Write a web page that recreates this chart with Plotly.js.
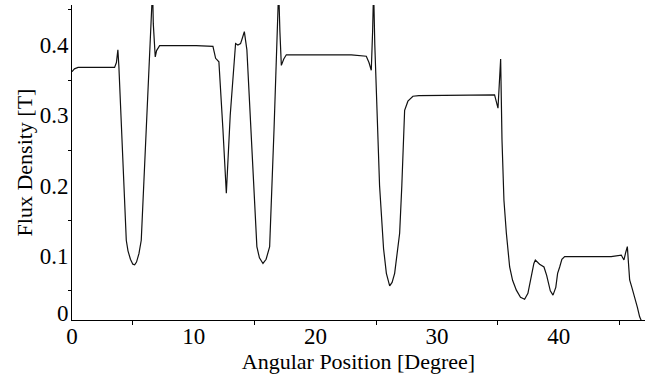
<!DOCTYPE html>
<html>
<head>
<meta charset="utf-8">
<script src="https://cdn.plot.ly/plotly-3.0.1.min.js"></script>
<style>html,body{margin:0;padding:0;background:#fff;}#chart{width:651px;height:383px;}</style>
</head>
<body>
<div id="chart"></div>
<script>
// Angular position [degree]
const angle = [
  0.0, 0.2, 0.5, 2.0, 3.5, 3.65, 3.77, 3.85, 4.1, 4.3, 4.46, 4.6, 4.8, 5.0, 5.15, 5.3, 5.5, 5.69, 6.0, 6.3, 6.46, 6.55, 6.62, 6.68, 6.78, 6.84, 6.95, 7.2,
  10.2, 11.58, 11.8, 12.07, 12.4, 12.68, 13.0, 13.44, 13.63, 13.85, 14.0, 14.16, 14.37, 14.8, 15.19, 15.4, 15.69, 15.95, 16.24, 16.6, 16.92, 16.98, 17.08, 17.2, 17.4, 17.61,
  22.95, 24.18, 24.4, 24.59, 24.7, 24.78, 24.88, 25.27, 25.6, 25.83, 26.1, 26.3, 26.51, 26.92, 27.1, 27.33, 27.6, 28.01, 28.5,
  34.72, 35.0, 35.1, 35.22, 35.33, 35.49, 35.69, 35.96, 36.2, 36.51, 36.85, 37.19, 37.46, 37.7, 37.95, 38.07, 38.42, 38.78, 39.0, 39.3, 39.52, 39.75, 39.9, 40.07, 40.25, 40.48,
  44.3, 45.13, 45.35, 45.5, 45.63, 45.72, 45.82, 46.0, 46.23, 46.45, 46.64, 46.9
];
// Flux density [T]
const flux = [
  0.362, 0.366, 0.368, 0.368, 0.368, 0.375, 0.393, 0.370, 0.260, 0.180, 0.122, 0.107, 0.095, 0.088, 0.087, 0.091, 0.103, 0.122, 0.235, 0.350, 0.417, 0.435, 0.480, 0.430, 0.390, 0.383, 0.392, 0.399,
  0.399, 0.398, 0.381, 0.376, 0.280, 0.189, 0.300, 0.402, 0.400, 0.402, 0.410, 0.419, 0.393, 0.250, 0.113, 0.097, 0.089, 0.095, 0.113, 0.280, 0.440, 0.480, 0.420, 0.371, 0.380, 0.386,
  0.386, 0.384, 0.375, 0.364, 0.420, 0.480, 0.400, 0.200, 0.110, 0.075, 0.057, 0.062, 0.075, 0.132, 0.200, 0.307, 0.320, 0.327, 0.328,
  0.329, 0.310, 0.350, 0.380, 0.265, 0.179, 0.132, 0.084, 0.065, 0.051, 0.041, 0.038, 0.0465, 0.070, 0.089, 0.094, 0.088, 0.084, 0.072, 0.050, 0.044, 0.055, 0.075, 0.084, 0.095, 0.0987,
  0.0987, 0.101, 0.094, 0.105, 0.113, 0.090, 0.0655, 0.055, 0.0417, 0.027, 0.013, 0.003
];
// Tick labels
const xTickVals = [0, 10, 20, 30, 40];
const xTickText = ['0', '10', '20', '30', '40'];
const xMinorTicks = [5, 15, 25, 35, 45];
const yTickVals = [0.0185, 0.1, 0.2, 0.3, 0.4];
const yTickText = ['0', '0.1', '0.2', '0.3', '0.4'];
const yMinorTicks = [0.05, 0.15, 0.25, 0.35, 0.45];

const font = {family: 'Liberation Serif, Times New Roman, serif', size: 22, color: '#000'};
const tickFont = {family: 'Liberation Serif, Times New Roman, serif', size: 23, color: '#000'};

const trace = {
  x: angle, y: flux, type: 'scatter', mode: 'lines',
  line: {color: '#111', width: 1.2},
  hoverinfo: 'skip'
};

const layout = {
  width: 651, height: 383,
  margin: {l: 72, r: 6, t: 5, b: 63},
  paper_bgcolor: '#fff', plot_bgcolor: '#fff',
  showlegend: false,
  font: font,
  xaxis: {
    range: [0, 47.08], showgrid: false, zeroline: false,
    showline: true, linecolor: '#000', linewidth: 1,
    tickmode: 'array', tickvals: xTickVals, ticktext: xTickText,
    ticks: '', ticklabelstandoff: -5,
    minor: {tickmode: 'array', tickvals: xMinorTicks, ticks: 'outside', ticklen: 4, tickcolor: '#000', tickwidth: 1, showgrid: false},
    tickfont: tickFont, automargin: false,
    title: {text: 'Angular Position [Degree]', font: font, standoff: 4}
  },
  yaxis: {
    range: [0.00854, 0.4569], showgrid: false, zeroline: false,
    showline: true, linecolor: '#000', linewidth: 1,
    tickmode: 'array', tickvals: yTickVals, ticktext: yTickText,
    ticks: '', ticklabelstandoff: -2,
    minor: {tickmode: 'array', tickvals: yMinorTicks, ticks: 'outside', ticklen: 3, tickcolor: '#000', tickwidth: 1, showgrid: false},
    tickfont: tickFont, automargin: false,
    title: {text: 'Flux Density [T]', font: font, standoff: 0}
  }
};

Plotly.newPlot('chart', [trace], layout, {staticPlot: true, displayModeBar: false});
</script>
</body>
</html>
